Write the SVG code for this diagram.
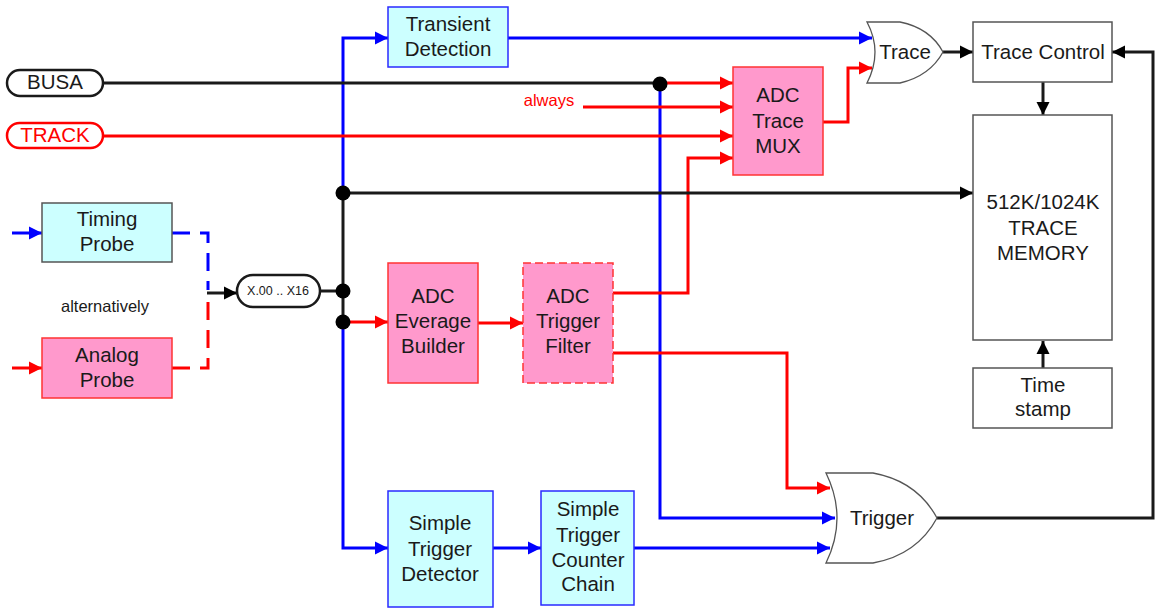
<svg xmlns="http://www.w3.org/2000/svg" width="1161" height="608" viewBox="0 0 1161 608">
<style>
text{font-family:"Liberation Sans",Arial,sans-serif;font-size:20.5px;fill:#1a1a1a;text-anchor:middle}
.sm{font-size:16.5px}
.xs{font-size:12.5px}
.red{fill:#ff0000}
.cyan{fill:#ccffff;stroke:#2a2aff;stroke-width:1.5}
.cyang{fill:#ccffff;stroke:#555;stroke-width:1.5}
.pink{fill:#ff99cc;stroke:#ff3333;stroke-width:1.5}
.wbox{fill:#fff;stroke:#555;stroke-width:1.5}
.gate{fill:#fff;stroke:#555;stroke-width:1.3}
.b{fill:none;stroke:#0000ff;stroke-width:3}
.r{fill:none;stroke:#ff0000;stroke-width:3}
.k{fill:none;stroke:#1a1a1a;stroke-width:3}
.ab{marker-end:url(#mb)}
.ar{marker-end:url(#mr)}
.ak{marker-end:url(#mk)}
.dot{fill:#000}
</style>
<defs>
<marker id="mb" viewBox="0 0 10 10" refX="10" refY="5" markerWidth="4.4" markerHeight="4.8" orient="auto"><path d="M0,0L10,5L0,10z" fill="#0000ff"/></marker>
<marker id="mr" viewBox="0 0 10 10" refX="10" refY="5" markerWidth="4.4" markerHeight="4.8" orient="auto"><path d="M0,0L10,5L0,10z" fill="#ff0000"/></marker>
<marker id="mk" viewBox="0 0 10 10" refX="10" refY="5" markerWidth="4.4" markerHeight="4.8" orient="auto"><path d="M0,0L10,5L0,10z" fill="#000"/></marker>
</defs>
<rect width="1161" height="608" fill="#fff"/>

<g id="connectors">
  <path class="b ab" d="M343,193V38H388"/>
  <path class="k" d="M343,193V322"/>
  <path class="b ab" d="M343,322V548H388"/>
  <path class="b ab" d="M508,38H872"/>
  <path class="k" d="M103,83H660"/>
  <path class="r ar" d="M660,83H733"/>
  <path class="b ab" d="M660,83V518H835"/>
  <path class="r ar" d="M583,107H733"/>
  <path class="r ar" d="M103,136H733"/>
  <path class="r ar" d="M613,293H688V158H733"/>
  <path class="r ar" d="M823,122H848V68H872"/>
  <path class="k ak" d="M943,52H973"/>
  <path class="k ak" d="M1043,82V115"/>
  <path class="k ak" d="M1043,368V341"/>
  <path class="k ak" d="M343,193H973"/>
  <path class="k ak" d="M937,518H1153V52H1112"/>
  <path class="b ab" d="M12,233H42"/>
  <path class="r ar" d="M12,368H42"/>
  <path class="b" stroke-dasharray="18,10" d="M172,233H208V290"/>
  <path class="r" stroke-dasharray="18,10" d="M172,368H208V293"/>
  <path class="k ak" d="M207,293H237"/>
  <path class="k" d="M320,291H343"/>
  <path class="r ar" d="M343,322H388"/>
  <path class="r ar" d="M478,323H523"/>
  <path class="r ar" d="M613,353H787V488H830"/>
  <path class="b ab" d="M493,548H541"/>
  <path class="b ab" d="M634,548H830"/>
  <circle class="dot" cx="343" cy="193" r="7.5"/>
  <circle class="dot" cx="343" cy="291" r="7.5"/>
  <circle class="dot" cx="343" cy="322" r="7.5"/>
  <circle class="dot" cx="660" cy="84" r="7.5"/>
</g>

<g id="busa">
  <rect x="7" y="70" width="96" height="26" rx="13" fill="#fff" stroke="#1a1a1a" stroke-width="2.5"/>
  <text x="55" y="89">BUSA</text>
</g>
<g id="track">
  <rect x="7" y="123" width="96" height="25" rx="12.5" fill="#fff" stroke="#ff0000" stroke-width="2.5"/>
  <text x="55" y="142" class="red">TRACK</text>
</g>
<g id="transient">
  <rect class="cyan" x="388" y="7" width="120" height="60"/>
  <text x="448" y="31">Transient</text>
  <text x="448" y="56">Detection</text>
</g>
<g id="always">
  <text x="549" y="106" class="sm red">always</text>
</g>
<g id="mux">
  <rect class="pink" x="733" y="67" width="90" height="108"/>
  <text x="778" y="102">ADC</text>
  <text x="778" y="127.5">Trace</text>
  <text x="778" y="153">MUX</text>
</g>
<g id="trace-gate">
  <path class="gate" d="M867,22H900Q930,28 943,52Q930,76 900,83H867Q883,52 867,22Z"/>
  <text x="905" y="59">Trace</text>
</g>
<g id="trace-control">
  <rect class="wbox" x="973" y="22" width="139" height="60"/>
  <text x="1043" y="59">Trace Control</text>
</g>
<g id="memory">
  <rect class="wbox" x="973" y="115" width="139" height="225"/>
  <text x="1043" y="209">512K/1024K</text>
  <text x="1043" y="235">TRACE</text>
  <text x="1043" y="260">MEMORY</text>
</g>
<g id="timestamp">
  <rect class="wbox" x="973" y="368" width="139" height="60"/>
  <text x="1043" y="392">Time</text>
  <text x="1043" y="416">stamp</text>
</g>
<g id="timing-probe">
  <rect class="cyang" x="42" y="203" width="130" height="59"/>
  <text x="107" y="226">Timing</text>
  <text x="107" y="251">Probe</text>
</g>
<g id="alternatively">
  <text x="105" y="312" class="sm">alternatively</text>
</g>
<g id="analog-probe">
  <rect class="pink" x="42" y="338" width="130" height="60"/>
  <text x="107" y="362">Analog</text>
  <text x="107" y="387">Probe</text>
</g>
<g id="xsel">
  <rect x="237" y="275" width="83" height="32" rx="16" fill="#fff" stroke="#1a1a1a" stroke-width="2.5"/>
  <text x="278" y="295" class="xs">X.00 .. X16</text>
</g>
<g id="everage">
  <rect class="pink" x="388" y="263" width="90" height="120"/>
  <text x="433" y="303">ADC</text>
  <text x="433" y="328">Everage</text>
  <text x="433" y="353">Builder</text>
</g>
<g id="trigger-filter">
  <rect class="pink" x="523" y="263" width="90" height="120" stroke-dasharray="8,4"/>
  <text x="568" y="303">ADC</text>
  <text x="568" y="328">Trigger</text>
  <text x="568" y="353">Filter</text>
</g>
<g id="simple-detector">
  <rect class="cyan" x="388" y="491" width="105" height="116"/>
  <text x="440" y="530">Simple</text>
  <text x="440" y="556">Trigger</text>
  <text x="440" y="581">Detector</text>
</g>
<g id="simple-counter">
  <rect class="cyan" x="541" y="491" width="93" height="114"/>
  <text x="588" y="516">Simple</text>
  <text x="588" y="542">Trigger</text>
  <text x="588" y="567">Counter</text>
  <text x="588" y="591">Chain</text>
</g>
<g id="trigger-gate">
  <path class="gate" d="M826,473H873Q917,481 937,518Q917,555 873,563H826Q848,518 826,473Z"/>
  <text x="882" y="525">Trigger</text>
</g>
</svg>
